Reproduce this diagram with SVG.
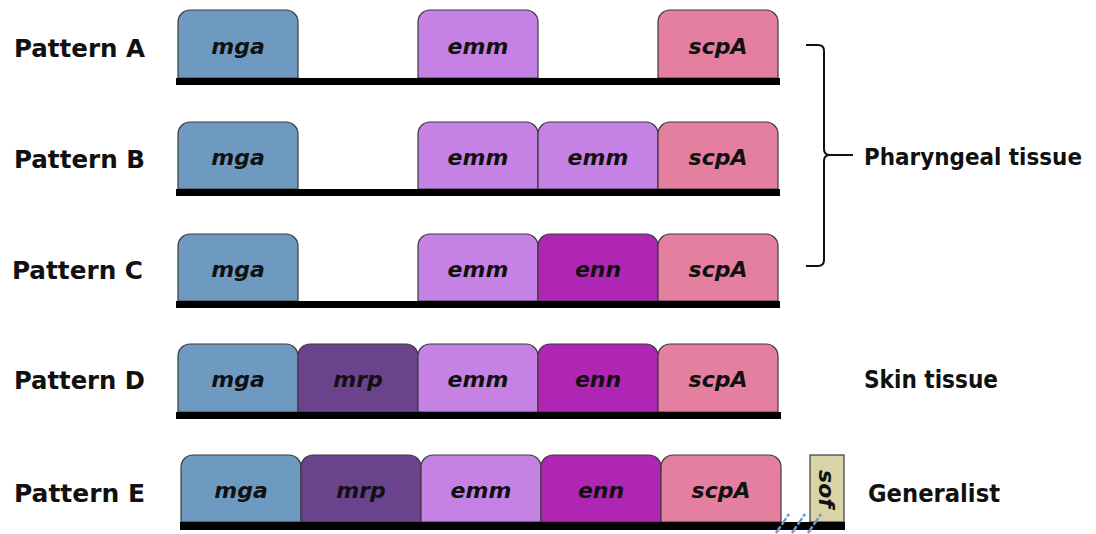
<svg xmlns="http://www.w3.org/2000/svg" width="1096" height="534" viewBox="0 0 1096 534">
<style>
.g{stroke:#3a3a3a;stroke-width:1.2}
.mga{fill:#6E9AC2}.mrp{fill:#6B438C}.emm{fill:#C582E4}.enn{fill:#B026B4}.scpA{fill:#E57FA0}.sof{fill:#D9D4A8}
.gt{font-family:"DejaVu Sans",sans-serif;font-weight:bold;font-style:italic;font-size:22px;fill:#111;text-anchor:middle}
.lb{font-family:"DejaVu Sans Condensed","DejaVu Sans","Liberation Sans",sans-serif;font-stretch:condensed;font-weight:bold;font-size:25px;fill:#111}
.rl{font-size:23px}
.bar{fill:#000}
</style>
<rect width="1096" height="534" fill="#fff"/>
<g id="patternA">
<text class="lb" x="14" y="57" textLength="131" lengthAdjust="spacingAndGlyphs">Pattern A</text>
<path class="g mga" d="M178 78V22a12 12 0 0 1 12-12h96a12 12 0 0 1 12 12v56z"/><text class="gt" x="238" y="54">mga</text>
<path class="g emm" d="M418 78V22a12 12 0 0 1 12-12h96a12 12 0 0 1 12 12v56z"/><text class="gt" x="478" y="54">emm</text>
<path class="g scpA" d="M658 78V22a12 12 0 0 1 12-12h96a12 12 0 0 1 12 12v56z"/><text class="gt" x="718" y="54">scpA</text>
<rect class="bar" x="176" y="78" width="604" height="7"/>
</g>
<g id="patternB">
<text class="lb" x="14" y="168" textLength="131" lengthAdjust="spacingAndGlyphs">Pattern B</text>
<path class="g mga" d="M178 189V134a12 12 0 0 1 12-12h96a12 12 0 0 1 12 12v55z"/><text class="gt" x="238" y="165">mga</text>
<path class="g emm" d="M418 189V134a12 12 0 0 1 12-12h96a12 12 0 0 1 12 12v55z"/><text class="gt" x="478" y="165">emm</text>
<path class="g emm" d="M538 189V134a12 12 0 0 1 12-12h96a12 12 0 0 1 12 12v55z"/><text class="gt" x="598" y="165">emm</text>
<path class="g scpA" d="M658 189V134a12 12 0 0 1 12-12h96a12 12 0 0 1 12 12v55z"/><text class="gt" x="718" y="165">scpA</text>
<rect class="bar" x="176" y="189" width="604" height="7"/>
</g>
<g id="patternC">
<text class="lb" x="12" y="279" textLength="131" lengthAdjust="spacingAndGlyphs">Pattern C</text>
<path class="g mga" d="M178 301V246a12 12 0 0 1 12-12h96a12 12 0 0 1 12 12v55z"/><text class="gt" x="238" y="277">mga</text>
<path class="g emm" d="M418 301V246a12 12 0 0 1 12-12h96a12 12 0 0 1 12 12v55z"/><text class="gt" x="478" y="277">emm</text>
<path class="g enn" d="M538 301V246a12 12 0 0 1 12-12h96a12 12 0 0 1 12 12v55z"/><text class="gt" x="598" y="277">enn</text>
<path class="g scpA" d="M658 301V246a12 12 0 0 1 12-12h96a12 12 0 0 1 12 12v55z"/><text class="gt" x="718" y="277">scpA</text>
<rect class="bar" x="176" y="301" width="604" height="7"/>
</g>
<g id="patternD">
<text class="lb" x="14" y="389" textLength="131" lengthAdjust="spacingAndGlyphs">Pattern D</text>
<path class="g mga" d="M178 412V356a12 12 0 0 1 12-12h96a12 12 0 0 1 12 12v56z"/><text class="gt" x="238" y="387">mga</text>
<path class="g mrp" d="M298 412V356a12 12 0 0 1 12-12h96a12 12 0 0 1 12 12v56z"/><text class="gt" x="358" y="387">mrp</text>
<path class="g emm" d="M418 412V356a12 12 0 0 1 12-12h96a12 12 0 0 1 12 12v56z"/><text class="gt" x="478" y="387">emm</text>
<path class="g enn" d="M538 412V356a12 12 0 0 1 12-12h96a12 12 0 0 1 12 12v56z"/><text class="gt" x="598" y="387">enn</text>
<path class="g scpA" d="M658 412V356a12 12 0 0 1 12-12h96a12 12 0 0 1 12 12v56z"/><text class="gt" x="718" y="387">scpA</text>
<rect class="bar" x="176" y="412" width="605" height="7"/>
</g>
<g id="patternE">
<text class="lb" x="14" y="502" textLength="131" lengthAdjust="spacingAndGlyphs">Pattern E</text>
<path class="g mga" d="M181 522V467a12 12 0 0 1 12-12h96a12 12 0 0 1 12 12v55z"/><text class="gt" x="241" y="498">mga</text>
<path class="g mrp" d="M301 522V467a12 12 0 0 1 12-12h96a12 12 0 0 1 12 12v55z"/><text class="gt" x="361" y="498">mrp</text>
<path class="g emm" d="M421 522V467a12 12 0 0 1 12-12h96a12 12 0 0 1 12 12v55z"/><text class="gt" x="481" y="498">emm</text>
<path class="g enn" d="M541 522V467a12 12 0 0 1 12-12h96a12 12 0 0 1 12 12v55z"/><text class="gt" x="601" y="498">enn</text>
<path class="g scpA" d="M661 522V467a12 12 0 0 1 12-12h96a12 12 0 0 1 12 12v55z"/><text class="gt" x="721" y="498">scpA</text>
<rect class="g sof" x="810" y="455" width="34" height="67"/>
<text class="gt" transform="translate(827 489) rotate(90)" y="8">sof</text>
<rect class="bar" x="180" y="522" width="665" height="8"/>
<g stroke="#6E9AC2" stroke-width="2.5" stroke-dasharray="8 2">
<line x1="776" y1="533" x2="789" y2="514"/>
<line x1="792" y1="533" x2="805" y2="514"/>
<line x1="808" y1="533" x2="821" y2="514"/>
</g>
</g>
<g id="connectors">
<path d="M806 45h12q6 0 6 6v98q0 6 6 6q-6 0-6 6v99q0 6-6 6h-12" fill="none" stroke="#111" stroke-width="2"/>
<line x1="830" y1="155" x2="853" y2="155" stroke="#111" stroke-width="2"/>
</g>
<g id="labels">
<text class="lb rl" x="864" y="165" textLength="218" lengthAdjust="spacingAndGlyphs">Pharyngeal tissue</text>
<text class="lb" x="864" y="388" textLength="134" lengthAdjust="spacingAndGlyphs">Skin tissue</text>
<text class="lb" x="868" y="502" textLength="132" lengthAdjust="spacingAndGlyphs">Generalist</text>
</g>
</svg>
